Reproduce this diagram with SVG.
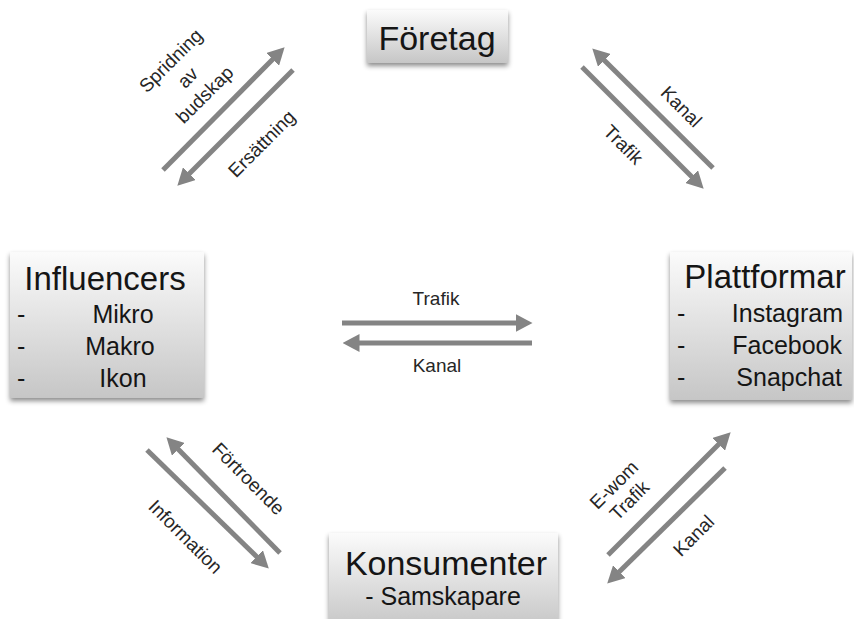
<svg xmlns="http://www.w3.org/2000/svg" width="854" height="619" viewBox="0 0 854 619">
<defs>
<linearGradient id="boxg" x1="0" y1="0" x2="0" y2="1">
<stop offset="0" stop-color="#fbfbfb"/>
<stop offset="1" stop-color="#c6c6c6"/>
</linearGradient>
<filter id="sh" x="-10%" y="-10%" width="120%" height="130%">
<feDropShadow dx="0" dy="3" stdDeviation="2.5" flood-color="#000" flood-opacity="0.45"/>
</filter>
<marker id="ah" markerUnits="userSpaceOnUse" viewBox="0 0 17 18" markerWidth="17" markerHeight="18" refX="0.5" refY="9" orient="auto">
<path d="M0,0 L17,9 L0,18 z" fill="#848484"/>
</marker>
<style>
.box{fill:url(#boxg);filter:url(#sh);}
.t{font-family:"Liberation Sans",Arial,sans-serif;fill:#151515;}
.title{font-size:34px;text-anchor:middle;}
.item{font-size:25px;}
.mid{text-anchor:middle;}
.lbl{font-family:"Liberation Sans",Arial,sans-serif;font-size:19px;fill:#262626;text-anchor:middle;}
.arr{stroke:#848484;stroke-width:5;fill:none;marker-end:url(#ah);}
</style>
</defs>
<rect width="854" height="619" fill="#fff"/>

<g id="foretag">
<rect class="box" x="367" y="10" width="141" height="53"/>
<text class="t title" x="437" y="50">Företag</text>
</g>

<g id="influencers">
<rect class="box" x="10" y="252" width="194" height="146"/>
<text class="t title" x="105" y="290" style="font-size:33px">Influencers</text>
<text class="t item" x="17" y="323">-</text>
<text class="t item mid" x="123" y="323">Mikro</text>
<text class="t item" x="17" y="355">-</text>
<text class="t item mid" x="120" y="355">Makro</text>
<text class="t item" x="17" y="387">-</text>
<text class="t item mid" x="123" y="387">Ikon</text>
</g>

<g id="plattformar">
<rect class="box" x="670" y="252" width="182" height="148"/>
<text class="t title" x="765" y="288" style="font-size:33px">Plattformar</text>
<text class="t item" x="677" y="322">-</text>
<text class="t item" x="843" y="322" text-anchor="end">Instagram</text>
<text class="t item" x="677" y="354">-</text>
<text class="t item" x="842" y="354" text-anchor="end">Facebook</text>
<text class="t item" x="677" y="386">-</text>
<text class="t item" x="842" y="386" text-anchor="end">Snapchat</text>
</g>

<g id="konsumenter">
<rect class="box" x="329" y="533" width="229" height="95"/>
<text class="t title" x="446" y="575">Konsumenter</text>
<text class="t item mid" x="443" y="605">- Samskapare</text>
</g>

<g id="connectors">
<line class="arr" x1="163" y1="170" x2="273" y2="59"/>
<line class="arr" x1="293" y1="70" x2="189" y2="174"/>
<line class="arr" x1="713" y1="168" x2="604" y2="60"/>
<line class="arr" x1="582" y1="67" x2="692" y2="177"/>
<line class="arr" x1="280" y1="553" x2="178" y2="449"/>
<line class="arr" x1="147" y1="450" x2="257" y2="557"/>
<line class="arr" x1="608" y1="555" x2="719" y2="444"/>
<line class="arr" x1="725" y1="468" x2="619" y2="572"/>
<line class="arr" x1="342" y1="323" x2="516" y2="323"/>
<line class="arr" x1="532" y1="343" x2="359" y2="343"/>

<g transform="translate(188,78) rotate(-45)">
<text class="lbl" x="0" y="-18">Spridning</text>
<text class="lbl" x="0" y="6">av</text>
<text class="lbl" x="0" y="30">budskap</text>
</g>
<text class="lbl" transform="translate(262,144) rotate(-45)" y="6">Ersättning</text>
<text class="lbl" transform="translate(681,107) rotate(45)" y="6">Kanal</text>
<text class="lbl" transform="translate(623,145) rotate(45)" y="6">Trafik</text>
<text class="lbl" transform="translate(248,479) rotate(45)" y="6">Förtroende</text>
<text class="lbl" transform="translate(185,537) rotate(45)" y="6">Information</text>
<g transform="translate(622,493) rotate(-45)">
<text class="lbl" x="0" y="-5">E-wom</text>
<text class="lbl" x="0" y="17">Trafik</text>
</g>
<text class="lbl" transform="translate(694,536) rotate(-45)" y="6">Kanal</text>
<text class="lbl" x="436" y="305">Trafik</text>
<text class="lbl" x="437" y="372">Kanal</text>
</g>
</svg>
